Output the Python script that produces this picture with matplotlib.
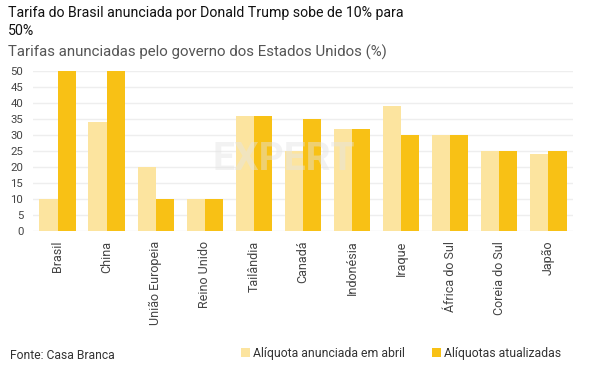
import matplotlib.pyplot as plt
import numpy as np

plt.rcParams['font.family'] = ['Roboto', 'DejaVu Sans']

paises = ['Brasil', 'China', 'União Europeia', 'Reino Unido', 'Tailândia', 'Canadá',
          'Indonésia', 'Iraque', 'África do Sul', 'Coreia do Sul', 'Japão']
abril = [10, 34, 20, 10, 36, 25, 32, 39, 30, 25, 24]
atualizadas = [50, 50, 10, 10, 36, 35, 32, 30, 30, 25, 25]
yticks = list(range(0, 55, 5))

cor_claro = '#FCE49F'
cor_escuro = '#F8C115'

fig = plt.figure(figsize=(5.9, 3.74), dpi=100)
ax = fig.add_axes([0.056, 0.382, 0.915, 0.428])

x = np.arange(len(paises))
w = 0.37
ax.bar(x - w / 2, abril, w, color=cor_claro, label='Alíquota anunciada em abril', zorder=3)
ax.bar(x + w / 2, atualizadas, w, color=cor_escuro, label='Alíquotas atualizadas', zorder=3)

ax.set_xlim(-0.5, len(paises) - 0.5)
ax.set_ylim(0, 50)
ax.set_yticks(yticks)
ax.set_xticks(x)
ax.set_xticklabels(paises, rotation=90, fontsize=9, color='#444444')
ax.tick_params(axis='y', labelsize=8.2, labelcolor='#444444', length=0, pad=7)
ax.tick_params(axis='x', length=0, pad=7)
ax.grid(axis='y', color='#eeeeee', linewidth=1, zorder=0)
for s in ax.spines.values():
    s.set_visible(False)

# marca d'agua
ax.text(0.465, 0.45, 'EXPERT', transform=ax.transAxes, fontsize=28, fontweight='bold',
        color='#e4e4e4', alpha=0.45, ha='center', va='center', zorder=4)

fig.text(0.014, 0.985, 'Tarifa do Brasil anunciada por Donald Trump sobe de 10% para\n50%',
         fontsize=10.2, va='top', ha='left', color='#111111', linespacing=1.4)
fig.text(0.014, 0.88, 'Tarifas anunciadas pelo governo dos Estados Unidos (%)',
         fontsize=10.8, va='top', ha='left', color='#555555')
fig.text(0.017, 0.05, 'Fonte: Casa Branca', fontsize=8.7, va='center', ha='left', color='#333333')

fig.legend(loc='center right', bbox_to_anchor=(0.97, 0.055), ncol=2, frameon=False,
           fontsize=8.8, handlelength=0.7, handleheight=0.7, handletextpad=0.3,
           columnspacing=2.2, labelcolor='#333333')

fig.savefig('out.png', dpi=100)
